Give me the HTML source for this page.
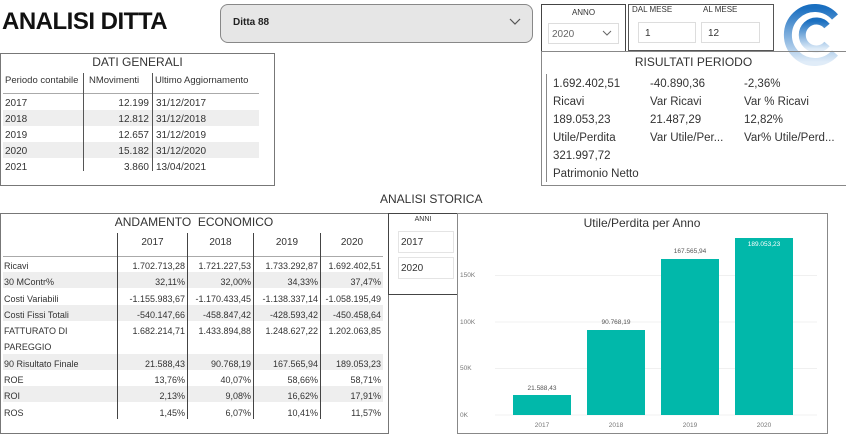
<!DOCTYPE html>
<html><head><meta charset="utf-8"><style>
body{margin:0;width:846px;height:440px;background:#fff;font-family:"Liberation Sans",sans-serif;color:#333;position:relative;overflow:hidden}
.a{position:absolute;white-space:nowrap}
.box{position:absolute;border:1px solid #777;box-sizing:border-box}
.t{font-size:10px}
.r{text-align:right}
</style></head><body>
<div class="a" style="left:2px;top:8px;font-size:24px;font-weight:bold;color:#111;letter-spacing:-0.5px">ANALISI DITTA</div>
<div class="box" style="left:220px;top:4px;width:313px;height:39px;background:#e6e6e6;border-radius:8px;border-color:#888"></div>
<div class="a" style="left:233px;top:17px;font-size:10px;font-weight:bold;color:#222">Ditta 88</div>
<svg class="a" style="left:509px;top:18px" width="12" height="8"><path d="M1 1 L6 6 L11 1" stroke="#555" fill="none" stroke-width="1.2"/></svg>

<!-- DATI GENERALI -->
<div class="box" style="left:0;top:53px;width:275px;height:133px"></div>
<div class="a" style="left:0;width:275px;text-align:center;top:55px;font-size:12px">DATI GENERALI</div>
<div class="a" style="left:5px;top:75px;font-size:9.5px">Periodo contabile</div>
<div class="a" style="left:89px;top:75px;font-size:9.5px">NMovimenti</div>
<div class="a" style="left:155px;top:75px;font-size:9.5px">Ultimo Aggiornamento</div>
<div class="a" style="left:3px;top:93px;width:256px;height:1px;background:#aaa"></div>
<div class="a" style="left:3px;top:110px;width:256px;height:16px;background:#eee"></div>
<div class="a" style="left:3px;top:142px;width:256px;height:16px;background:#eee"></div>
<div class="a" style="left:83px;top:73px;width:1px;height:98px;background:#555"></div>
<div class="a" style="left:152px;top:73px;width:1px;height:98px;background:#555"></div>
<div class="a t" style="left:5px;top:96px;line-height:16px">2017<br>2018<br>2019<br>2020<br>2021</div>
<div class="a t r" style="left:90px;width:59px;top:96px;line-height:16px">12.199<br>12.812<br>12.657<br>15.182<br>3.860</div>
<div class="a t" style="left:156px;top:96px;line-height:16px">31/12/2017<br>31/12/2018<br>31/12/2019<br>31/12/2020<br>13/04/2021</div>

<!-- ANNO / MESE -->
<div class="box" style="left:541px;top:4px;width:85px;height:48px;border-color:#444"></div>
<div class="a" style="left:541px;width:85px;text-align:center;top:8px;font-size:8px">ANNO</div>
<div class="box" style="left:548px;top:23px;width:71px;height:21px;border-color:#ddd"></div>
<div class="a t" style="left:552px;top:29px;color:#666">2020</div>
<svg class="a" style="left:602px;top:30px" width="10" height="7"><path d="M1 1 L5 5 L9 1" stroke="#666" fill="none"/></svg>
<div class="box" style="left:628px;top:4px;width:146px;height:47px;border-color:#555"></div>
<div class="a" style="left:632px;top:5px;font-size:8px">DAL MESE</div>
<div class="a" style="left:703px;top:5px;font-size:8px">AL MESE</div>
<div class="box" style="left:638px;top:22px;width:58px;height:21px;border-color:#ddd"></div>
<div class="box" style="left:701px;top:22px;width:59px;height:21px;border-color:#ddd"></div>
<div class="a t" style="left:645px;top:28px">1</div>
<div class="a t" style="left:708px;top:28px">12</div>

<svg class="a" style="left:780px;top:3px" width="64" height="64">
<defs><linearGradient id="g" x1="0" y1="0" x2="0" y2="1"><stop offset="0" stop-color="#1a6fc0"/><stop offset="1" stop-color="#e0ecf8"/></linearGradient></defs>
<path d="M55 14 A27 27 0 1 0 55 50" stroke="url(#g)" stroke-width="8" fill="none"/>
<path d="M47 23 A14 14 0 1 0 47 41" stroke="url(#g)" stroke-width="7" fill="none"/>
</svg>

<!-- RISULTATI -->
<div class="box" style="left:541px;top:51px;width:306px;height:135px;border-color:#888"></div>
<div class="a" style="left:541px;width:305px;text-align:center;top:55px;font-size:12px">RISULTATI PERIODO</div>
<div class="a" style="left:546px;top:74px;width:1px;height:108px;background:#888"></div>
<div class="a" style="left:553px;top:75px;font-size:11.5px;line-height:18px">1.692.402,51<br>Ricavi<br>189.053,23<br>Utile/Perdita<br>321.997,72<br>Patrimonio Netto</div>
<div class="a" style="left:650px;top:75px;font-size:11.5px;line-height:18px">-40.890,36<br>Var Ricavi<br>21.487,29<br>Var Utile/Per...</div>
<div class="a" style="left:744px;top:75px;font-size:11.5px;line-height:18px">-2,36%<br>Var % Ricavi<br>12,82%<br>Var% Utile/Perd...</div>

<div class="a" style="left:380px;top:192px;font-size:12px">ANALISI STORICA</div>

<!-- ANDAMENTO -->
<div class="box" style="left:0;top:213px;width:389px;height:221px"></div>
<div class="a" style="left:0;width:388px;text-align:center;top:215px;font-size:12px">ANDAMENTO&nbsp; ECONOMICO</div>
<div class="a" style="left:3px;top:256px;width:380px;height:1px;background:#aaa"></div>
<div class="a" style="left:3px;top:272px;width:380px;height:16px;background:#eee"></div>
<div class="a" style="left:3px;top:305px;width:380px;height:16px;background:#eee"></div>
<div class="a" style="left:3px;top:354px;width:380px;height:16px;background:#eee"></div>
<div class="a" style="left:3px;top:386px;width:380px;height:16px;background:#eee"></div>
<div class="a" style="left:117px;top:233px;width:1px;height:186px;background:#444"></div>
<div class="a" style="left:187px;top:233px;width:1px;height:186px;background:#444"></div>
<div class="a" style="left:253px;top:233px;width:1px;height:186px;background:#444"></div>
<div class="a" style="left:320px;top:233px;width:1px;height:186px;background:#444"></div>
<div class="a t" style="left:118px;width:69px;text-align:center;top:237px">2017</div>
<div class="a t" style="left:188px;width:65px;text-align:center;top:237px">2018</div>
<div class="a t" style="left:254px;width:66px;text-align:center;top:237px">2019</div>
<div class="a t" style="left:321px;width:62px;text-align:center;top:237px">2020</div>
<div class="a" style="left:4px;top:258px;font-size:9px;line-height:16.3px">Ricavi<br>30 MContr%<br>Costi Variabili<br>Costi Fissi Totali<br>FATTURATO DI<br>PAREGGIO<br>90 Risultato Finale<br>ROE<br>ROI<br>ROS</div>
<div class="a r" style="left:100px;width:85px;top:258px;font-size:9px;line-height:16.3px">1.702.713,28<br>32,11%<br>-1.155.983,67<br>-540.147,66<br>1.682.214,71<br><br>21.588,43<br>13,76%<br>2,13%<br>1,45%</div>
<div class="a r" style="left:166px;width:85px;top:258px;font-size:9px;line-height:16.3px">1.721.227,53<br>32,00%<br>-1.170.433,45<br>-458.847,42<br>1.433.894,88<br><br>90.768,19<br>40,07%<br>9,08%<br>6,07%</div>
<div class="a r" style="left:233px;width:85px;top:258px;font-size:9px;line-height:16.3px">1.733.292,87<br>34,33%<br>-1.138.337,14<br>-428.593,42<br>1.248.627,22<br><br>167.565,94<br>58,66%<br>16,62%<br>10,41%</div>
<div class="a r" style="left:296px;width:85px;top:258px;font-size:9px;line-height:16.3px">1.692.402,51<br>37,47%<br>-1.058.195,49<br>-450.458,64<br>1.202.063,85<br><br>189.053,23<br>58,71%<br>17,91%<br>11,57%</div>

<!-- ANNI -->
<div class="box" style="left:388px;top:213px;width:70px;height:82px;border-color:#444"></div>
<div class="a" style="left:388px;width:70px;text-align:center;top:216px;font-size:7px">ANNI</div>
<div class="box" style="left:398px;top:231px;width:56px;height:22px;border-color:#e4e4e4"></div>
<div class="box" style="left:398px;top:257px;width:56px;height:22px;border-color:#e4e4e4"></div>
<div class="a t" style="left:401px;top:237px">2017</div>
<div class="a t" style="left:401px;top:263px">2020</div>

<!-- CHART -->
<div class="box" style="left:457px;top:213px;width:371px;height:221px;border-color:#888"></div>
<div class="a" style="left:457px;width:370px;text-align:center;top:216px;font-size:12px">Utile/Perdita per Anno</div>
<svg class="a" style="left:457px;top:213px" width="371" height="221" font-family="Liberation Sans" font-size="6.5" fill="#777">
<g stroke="#f0f0f0"><line x1="38" x2="360" y1="202" y2="202"/><line x1="38" x2="360" y1="155.5" y2="155.5"/><line x1="38" x2="360" y1="109" y2="109"/><line x1="38" x2="360" y1="62.5" y2="62.5"/></g>
<text x="3" y="204">0K</text><text x="3" y="157">50K</text><text x="3" y="111">100K</text><text x="3" y="64">150K</text>
<g fill="#01b8aa"><rect x="56" y="182" width="58" height="20"/><rect x="130" y="117" width="58" height="85"/><rect x="204" y="46" width="58" height="156"/><rect x="278" y="25" width="58" height="177"/></g>
<g text-anchor="middle" fill="#555"><text x="85" y="177">21.588,43</text><text x="159" y="111">90.768,19</text><text x="233" y="40">167.565,94</text><text x="307" y="33" fill="#fff">189.053,23</text>
<text x="85" y="214" fill="#777">2017</text><text x="159" y="214" fill="#777">2018</text><text x="233" y="214" fill="#777">2019</text><text x="307" y="214" fill="#777">2020</text></g>
</svg>
</body></html>
